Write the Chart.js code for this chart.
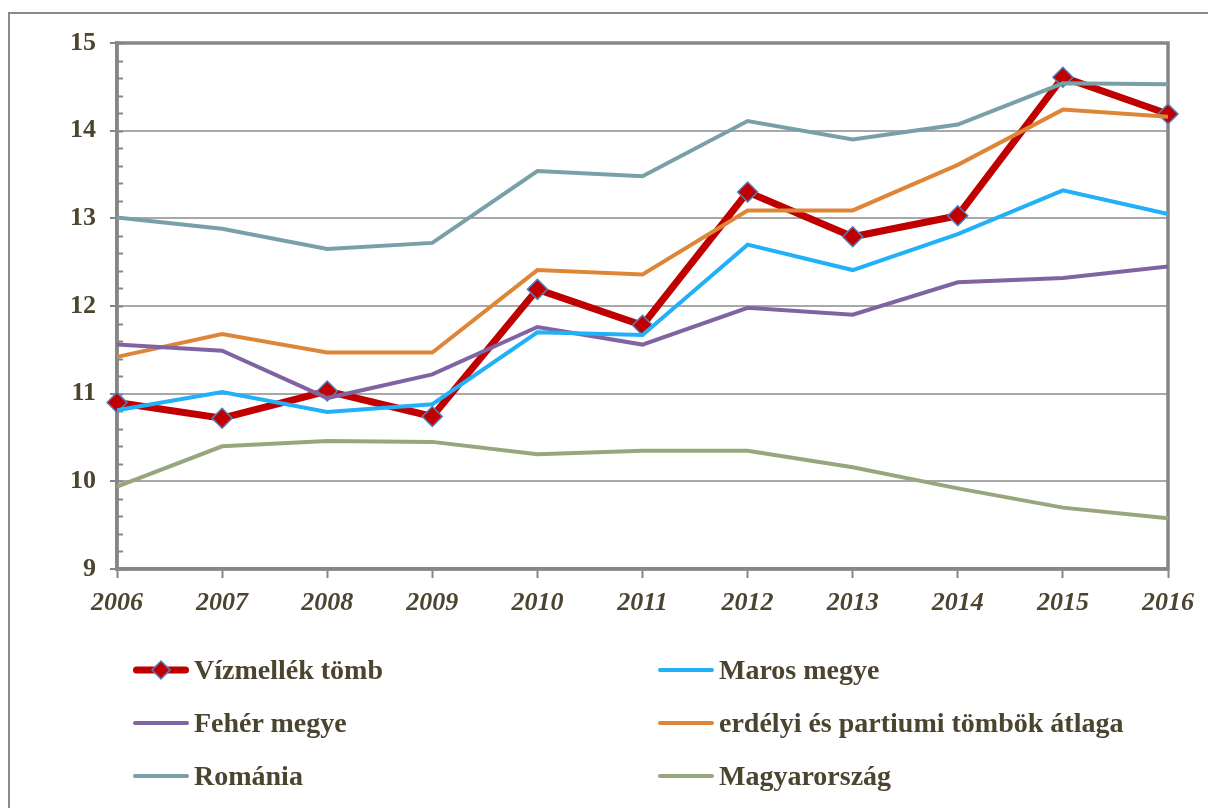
<!DOCTYPE html>
<html>
<head>
<meta charset="utf-8">
<script src="https://cdn.jsdelivr.net/npm/chart.js@4"></script>
<style>
    html, body { margin: 0; padding: 0; background: #fff; overflow: hidden; }
    #wrap { position: relative; width: 1208px; height: 808px; }
    #frame {
        position: absolute; left: 8px; top: 12px; width: 1300px; height: 900px;
        border: 2px solid #8a8a8a; box-sizing: border-box;
    }
    #chartCanvas { position: absolute; left: 0; top: 0; }
    #legend { position: absolute; left: 0; top: 0; width: 1208px; height: 808px; pointer-events: none; }
    .leg-item {
        position: absolute; height: 40px; display: flex; align-items: center;
        font: bold 28px "Liberation Serif", "Times New Roman", serif; color: #4b4530;
        white-space: nowrap;
    }
    .leg-item svg { margin-right: 3px; }
</style>
</head>
<body>
<div id="wrap">
    <div id="frame"></div>
    <canvas id="chartCanvas" width="1208" height="808"></canvas>
    <div id="legend"></div>
</div>
<script>
// data
const years = ['2006', '2007', '2008', '2009', '2010', '2011', '2012', '2013', '2014', '2015', '2016'];
const vizmellek = [10.90, 10.72, 11.03, 10.74, 12.19, 11.78, 13.30, 12.79, 13.03, 14.61, 14.19];
const maros = [10.81, 11.02, 10.79, 10.88, 11.70, 11.67, 12.70, 12.41, 12.82, 13.32, 13.05];
const feher = [11.56, 11.49, 10.95, 11.22, 11.76, 11.56, 11.98, 11.90, 12.27, 12.32, 12.45];
const erdelyi = [11.42, 11.68, 11.47, 11.47, 12.41, 12.36, 13.09, 13.09, 13.61, 14.24, 14.16];
const romania = [13.01, 12.88, 12.65, 12.72, 13.54, 13.48, 14.11, 13.90, 14.07, 14.54, 14.53];
const magyar = [9.94, 10.40, 10.46, 10.45, 10.31, 10.35, 10.35, 10.16, 9.92, 9.70, 9.58];
const Y_MIN = 9, Y_MAX = 15, MINOR_STEP = 0.2;

const TEXT = '#4b4530';
const AXIS = '#868686';
const GRID = '#a8a8a8';
const FONT = '"Liberation Serif", "Times New Roman", serif';

function series(label, data, color, extra) {
    return Object.assign({
        label: label,
        data: data,
        borderColor: color,
        backgroundColor: color,
        borderWidth: 4,
        pointRadius: 0,
        tension: 0,
        order: 0
    }, extra || {});
}

// frame around the plot + small inner ticks on the y axis
const plotFrame = {
    id: 'plotFrame',
    beforeDatasetsDraw(chart) {
        const a = chart.chartArea;
        const y = chart.scales.y;
        const c = chart.ctx;
        c.save();
        c.strokeStyle = AXIS;
        c.lineWidth = 2;
        for (let v = Y_MIN; v <= Y_MAX + 1e-9; v += MINOR_STEP) {
            const py = Math.round(y.getPixelForValue(v)) + 0.5;
            c.beginPath();
            c.moveTo(a.left, py);
            c.lineTo(a.left + 6, py);
            c.stroke();
        }
        c.lineWidth = 3.5;
        c.strokeRect(a.left, a.top, a.right - a.left, a.bottom - a.top);
        c.restore();
    }
};

const ctx = document.getElementById('chartCanvas').getContext('2d');
const chart = new Chart(ctx, {
    type: 'line',
    data: {
        labels: years,
        datasets: [
            series('Vízmellék tömb', vizmellek, '#c00000', {
                borderWidth: 7,
                pointStyle: 'rectRot',
                pointRadius: 10,
                pointBackgroundColor: '#c00000',
                pointBorderColor: '#4f81bd',
                pointBorderWidth: 1.5,
                order: 1
            }),
            series('Maros megye', maros, '#22b0f8'),
            series('Fehér megye', feher, '#8064a2'),
            series('erdélyi és partiumi tömbök átlaga', erdelyi, '#de8638'),
            series('Románia', romania, '#79a0a8'),
            series('Magyarország', magyar, '#98a67e')
        ]
    },
    options: {
        responsive: false,
        animation: false,
        devicePixelRatio: 1,
        layout: { padding: { left: 0, top: 43, right: 40, bottom: 189 } },
        scales: {
            x: {
                offset: false,
                grid: {
                    drawOnChartArea: false,
                    tickLength: 9,
                    tickColor: AXIS,
                    tickWidth: 2
                },
                border: { color: AXIS, width: 3.5 },
                ticks: {
                    color: TEXT,
                    font: { family: FONT, size: 26, weight: 'bold', style: 'italic' },
                    padding: 10,
                    maxRotation: 0
                },
                afterFit(scale) { scale.height = 50; }
            },
            y: {
                min: Y_MIN,
                max: Y_MAX,
                grid: {
                    color: GRID,
                    lineWidth: 2,
                    tickLength: 7,
                    tickColor: AXIS,
                    tickWidth: 2
                },
                border: { color: AXIS, width: 3.5 },
                ticks: {
                    stepSize: 1,
                    color: TEXT,
                    font: { family: FONT, size: 26, weight: 'bold' },
                    padding: 14
                },
                afterFit(scale) { scale.width = 117; }
            }
        },
        plugins: {
            legend: { display: false },
            tooltip: { enabled: false }
        }
    },
    plugins: [plotFrame]
});

// --- HTML legend, two columns ---
const legendEl = document.getElementById('legend');
const colX = [133, 658];
const rowY = [670, 723, 776];
chart.data.datasets.forEach((ds, i) => {
    const col = i % 2, row = Math.floor(i / 2);
    const w = ds.borderWidth;
    let svg = '<svg width="58" height="24" viewBox="0 0 58 24">' +
        '<line x1="' + (w / 2) + '" y1="12" x2="' + (56 - w / 2) + '" y2="12" stroke="' + ds.borderColor +
        '" stroke-width="' + w + '" stroke-linecap="round"/>';
    if (ds.pointStyle === 'rectRot') {
        svg += '<polygon points="28,3 37,12 28,21 19,12" fill="' + ds.pointBackgroundColor +
            '" stroke="' + ds.pointBorderColor + '" stroke-width="1.5"/>';
    }
    svg += '</svg>';
    const item = document.createElement('div');
    item.className = 'leg-item';
    item.style.left = colX[col] + 'px';
    item.style.top = (rowY[row] - 20) + 'px';
    item.innerHTML = svg + '<span>' + ds.label + '</span>';
    legendEl.appendChild(item);
});
</script>
</body>
</html>
